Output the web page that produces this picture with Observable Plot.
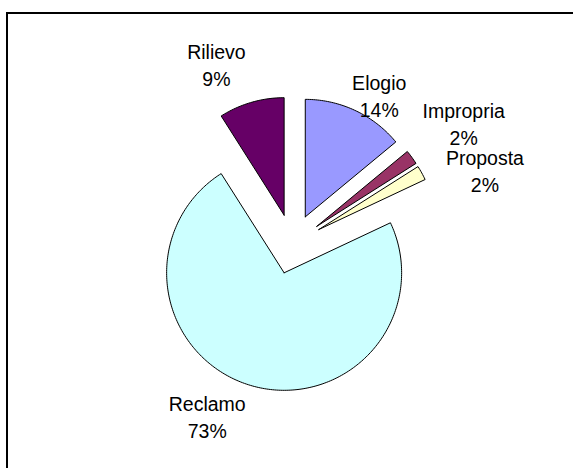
<!DOCTYPE html>
<html>
<head>
<meta charset="utf-8">
<script src="https://cdn.jsdelivr.net/npm/d3@7"></script>
<script src="https://cdn.jsdelivr.net/npm/@observablehq/plot@0.6"></script>
<style>
  html, body { margin: 0; padding: 0; background: #fff; }
  #wrap { position: relative; width: 573px; height: 468px; overflow: hidden; }
  #frame { position: absolute; left: 6px; top: 12px; width: 800px; height: 800px;
           border-left: 2px solid #000; border-top: 2px solid #000; box-sizing: border-box; }
  #chart { position: absolute; left: 0; top: 0; }
</style>
</head>
<body>
<div id="wrap"><div id="frame"></div><div id="chart"></div></div>
<script>
// ---- data ----
const categories = ["Elogio", "Impropria", "Proposta", "Reclamo", "Rilievo"];
const values = [14, 2, 2, 73, 9];
const colors = ["#9999FF", "#993366", "#FFFFCC", "#CCFFFF", "#660066"];

// ---- layout ----
const W = 573, H = 468;
const R = 117.5;                 // pie radius (px)
const CX = 292, CY = 243.5;      // pie centre (px)
const EXPLODE = 30 / R;          // explosion as a fraction of radius
const LABEL_RHO = 157;           // label anchor distance (px)
const RHO_MIN = R;               // closest a label may be pulled in
const GAP = 10;                  // spacing required between label boxes
const FS = 19.5, LINE = 27, ASC = 16.5, DESC = 6.8, PAD = 3;
const FONT = "'Liberation Sans', Arial, sans-serif";
const BOX_H = ASC + LINE + DESC;

const total = d3.sum(values);
const pct = d3.format(".0%");
const arcs = d3.pie().sort(null).value(d => d)(values);

// slice outlines in radius units (y up)
const slices = [];
arcs.forEach((a, i) => {
  const name = categories[i];
  const mid = (a.startAngle + a.endAngle) / 2;
  const ox = EXPLODE * Math.sin(mid), oy = EXPLODE * Math.cos(mid);
  const n = Math.max(2, Math.ceil((a.endAngle - a.startAngle) / (Math.PI / 180)));
  slices.push({name, x: ox, y: oy});
  for (let k = 0; k <= n; k++) {
    const t = a.startAngle + (a.endAngle - a.startAngle) * k / n;
    slices.push({name, x: ox + Math.sin(t), y: oy + Math.cos(t)});
  }
  slices.push({name, x: ox, y: oy});
});

// label layout (px, relative to centre, y down)
const ctx = document.createElement("canvas").getContext("2d");
ctx.font = `${FS}px ${FONT}`;
function place(lab, ang, rho) {
  const ux = Math.sin(ang), uy = -Math.cos(ang);
  const px = rho * ux, py = rho * uy;
  const bw = lab.w + 2 * PAD;
  const left = ux >= 0 ? px : px - bw;
  const top = uy < 0 ? py - BOX_H : py;
  return {left, right: left + bw, top, bottom: top + BOX_H,
          cx: left + bw / 2, b1: top + ASC, b2: top + ASC + LINE};
}
const overlap = (p, q) => p.left < q.right + GAP && q.left < p.right + GAP &&
  p.top < q.bottom + GAP && q.top < p.bottom + GAP;
const inkOverlap = (p, q) => (p.left + PAD) < (q.right - PAD) && (q.left + PAD) < (p.right - PAD) &&
  (p.b1 - 15) < (q.b2 + 5) && (q.b1 - 15) < (p.b2 + 5);

const labels = arcs.map((a, i) => {
  const name = categories[i];
  const share = pct(values[i] / total);
  const w = Math.max(ctx.measureText(name).width, ctx.measureText(share).width);
  const lab = {name, share, w, ang: (a.startAngle + a.endAngle) / 2, rho: LABEL_RHO};
  lab.box = place(lab, lab.ang, lab.rho);
  return lab;
});
for (let i = 0; i < labels.length - 1; i++) {
  const a = labels[i], b = labels[i + 1];
  if (!overlap(a.box, b.box)) continue;
  let moved = false;
  for (let r = a.rho; r >= RHO_MIN; r -= 0.5) {
    const bx = place(a, a.ang, r);
    if (!overlap(bx, b.box)) { a.rho = r; a.box = bx; moved = true; break; }
  }
  if (!moved) {
    for (let ang = b.ang; ang < b.ang + Math.PI / 4; ang += 0.002) {
      const bx = place(b, ang, b.rho);
      if (!inkOverlap(a.box, bx)) { b.ang = ang; b.box = bx; break; }
    }
  }
}
const labelRows = labels.map(l => ({
  name: l.name, share: l.share,
  x: l.box.cx / R,
  y1: -(l.box.b1 - 0.32 * FS) / R,
  y2: -(l.box.b2 - 0.32 * FS) / R
}));

const chart = Plot.plot({
  width: W, height: H,
  margin: 0,
  style: {fontFamily: FONT, fontSize: FS + "px", background: "transparent"},
  x: {domain: [-CX / R, (W - CX) / R], range: [0, W], axis: null},
  y: {domain: [-(H - CY) / R, CY / R], range: [H, 0], axis: null},
  color: {domain: categories, range: colors},
  marks: [
    Plot.line(slices, {x: "x", y: "y", z: "name", fill: "name", stroke: "#000",
                       strokeWidth: 1, strokeLinejoin: "miter", curve: "linear"}),
    Plot.text(labelRows, {x: "x", y: "y1", text: "name", fill: "#000", fontSize: FS,
                          textAnchor: "middle", lineAnchor: "middle"}),
    Plot.text(labelRows, {x: "x", y: "y2", text: "share", fill: "#000", fontSize: FS,
                          textAnchor: "middle", lineAnchor: "middle"})
  ]
});
document.getElementById("chart").appendChild(chart);
</script>
</body>
</html>
